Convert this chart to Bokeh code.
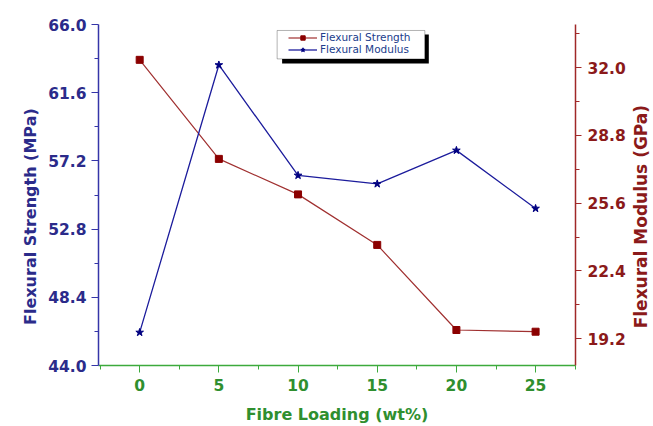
import math
from bokeh.plotting import figure
from bokeh.layouts import row
from bokeh.core.properties import value
from bokeh.models import (LinearAxis, Range1d, FixedTicker, PrintfTickFormatter,
                          Legend, LegendItem, BoxAnnotation)
from bokeh.embed import file_html
from bokeh.resources import INLINE

# ---- data ----
fibre = [0, 5, 10, 15, 20, 25]
strength = [63.72, 57.33, 55.04, 51.78, 46.29, 46.18]      # red, left axis (MPa)
modulus = [19.50, 32.12, 26.91, 26.51, 28.09, 25.35]        # blue, right axis (GPa)

x_major = [0, 5, 10, 15, 20, 25]
x_minor = [-2.5, 2.5, 7.5, 12.5, 17.5, 22.5, 27.5]
yl_major = [44.0, 48.4, 52.8, 57.2, 61.6, 66.0]
yl_minor = [46.2, 50.6, 55.0, 59.4, 63.8]
yr_major = [19.2, 22.4, 25.6, 28.8, 32.0]
yr_minor = [20.8, 24.0, 27.2, 30.4, 33.6]

left_title = "Flexural Strength (MPa)"
right_title = "Flexural Modulus (GPa)"
x_title = "Fibre Loading (wt%)"

X0, X1 = -2.6, 27.52
Y0, Y1 = 44.0, 66.0
R0, R1 = 17.94, 34.03

FONT = "DejaVu Sans"
BLUE_T = "#2B2B8A"
BLUE_A = "#3535A8"
RED_T = "#8B1A1A"
RED_A = "#A02828"
GREEN_T = "#2F8F2F"
GREEN_A = "#3CAA3C"

H = 426
LW, RW = 42, 25          # side strips holding the y titles
MW = 653 - LW - RW       # main plot width
TITLE_Y = H - 240        # vertical centre of the y titles


def strip(width):
    f = figure(width=width, height=H, output_backend="svg", toolbar_location=None,
               title=None, x_axis_type=None, y_axis_type=None,
               x_range=Range1d(0, width), y_range=Range1d(0, H),
               min_border=0, min_border_left=0, min_border_right=0,
               min_border_top=0, min_border_bottom=0)
    f.outline_line_color = None
    f.xgrid.visible = False
    f.ygrid.visible = False
    f.background_fill_color = "white"
    f.border_fill_color = "white"
    return f


pl = strip(LW)
pl.text(x=[30], y=[TITLE_Y], text=[left_title], angle=math.pi / 2,
        text_align="center", text_baseline="middle", text_font=value(FONT),
        text_font_style="bold", text_font_size=value("16px"), text_color=BLUE_T)

pr = strip(RW)
pr.text(x=[640 - (LW + MW)], y=[TITLE_Y], text=[right_title], angle=math.pi / 2,
        text_align="center", text_baseline="middle", text_font=value(FONT),
        text_font_style="bold", text_font_size=value("17px"), text_color=RED_T)

pm = figure(width=MW, height=H, output_backend="svg", toolbar_location=None,
            title=None, x_range=Range1d(X0, X1), y_range=Range1d(Y0, Y1),
            min_border_left=98 - LW, min_border_right=(LW + MW) - 576,
            min_border_top=24, min_border_bottom=60)
pm.outline_line_color = None
pm.xgrid.visible = False
pm.ygrid.visible = False
pm.background_fill_color = "white"
pm.border_fill_color = "white"
pm.extra_y_ranges = {"mod": Range1d(R0, R1)}

# x axis
xa = pm.xaxis[0]
xa.ticker = FixedTicker(ticks=x_major, minor_ticks=x_minor)
xa.axis_label = x_title
xa.axis_label_text_font = FONT
xa.axis_label_text_font_style = "bold"
xa.axis_label_text_font_size = "16px"
xa.axis_label_text_color = GREEN_T
xa.axis_label_standoff = 11
xa.major_label_text_font = FONT
xa.major_label_text_font_style = "bold"
xa.major_label_text_font_size = "15.5px"
xa.major_label_text_color = GREEN_T
xa.major_label_standoff = 6
xa.axis_line_color = GREEN_A
xa.major_tick_line_color = GREEN_A
xa.minor_tick_line_color = GREEN_A
xa.major_tick_out = 7
xa.major_tick_in = 0
xa.minor_tick_out = 4
xa.minor_tick_in = 0
xa.axis_line_width = 1.5

# left axis
ya = pm.yaxis[0]
ya.ticker = FixedTicker(ticks=yl_major, minor_ticks=yl_minor)
ya.formatter = PrintfTickFormatter(format="%.1f")
ya.major_label_text_font = FONT
ya.major_label_text_font_style = "bold"
ya.major_label_text_font_size = "15.5px"
ya.major_label_text_color = BLUE_T
ya.major_label_standoff = 5
ya.axis_line_color = BLUE_A
ya.major_tick_line_color = BLUE_A
ya.minor_tick_line_color = BLUE_A
ya.major_tick_out = 7
ya.major_tick_in = 0
ya.minor_tick_out = 4
ya.minor_tick_in = 0
ya.axis_line_width = 1.5

# right axis
ra = LinearAxis(y_range_name="mod")
ra.ticker = FixedTicker(ticks=yr_major, minor_ticks=yr_minor)
ra.formatter = PrintfTickFormatter(format="%.1f")
ra.major_label_text_font = FONT
ra.major_label_text_font_style = "bold"
ra.major_label_text_font_size = "15.5px"
ra.major_label_text_color = RED_T
ra.major_label_standoff = 6
ra.axis_line_color = RED_A
ra.major_tick_line_color = RED_A
ra.minor_tick_line_color = RED_A
ra.major_tick_out = 6
ra.major_tick_in = 0
ra.minor_tick_out = 4
ra.minor_tick_in = 0
ra.axis_line_width = 1.5
pm.add_layout(ra, "right")

# series
rl = pm.line(fibre, strength, line_color="#A03030", line_width=1.2)
rs = pm.scatter(fibre, strength, marker="square", size=7, fill_color="#8B0000",
                line_color="#8B0000")
bl = pm.line(fibre, modulus, line_color="#1C1C9C", line_width=1.3, y_range_name="mod")
bs = pm.scatter(fibre, modulus, marker="star", size=8, fill_color="#000080",
                line_color="#000080", y_range_name="mod")


# pixel -> data helpers (frame on page: x 98..576, y 24..366)
def dx(px):
    return X0 + (px - 98) * (X1 - X0) / 478.0


def dy(py):
    return Y0 + (366 - py) * (Y1 - Y0) / 342.0


# legend box with shadow
shadow = BoxAnnotation(left=dx(282), right=dx(429), top=dy(34), bottom=dy(63),
                       fill_color="black", fill_alpha=1.0, line_color=None)
box = BoxAnnotation(left=dx(277), right=dx(425), top=dy(30), bottom=dy(58.5),
                    fill_color="white", fill_alpha=1.0, line_color="black",
                    line_width=1)
pm.add_layout(shadow)
pm.add_layout(box)

legend = Legend(items=[LegendItem(label="Flexural Strength", renderers=[rl, rs]),
                       LegendItem(label="Flexural Modulus", renderers=[bl, bs])],
                location=(190, 310), border_line_color=None,
                background_fill_alpha=0.0, glyph_width=29, glyph_height=11,
                label_height=11, spacing=0, padding=0, margin=0,
                label_standoff=3, label_text_font=FONT,
                label_text_font_size="10.5px", label_text_color="#203C8C")
pm.add_layout(legend, "center")

p = row(pl, pm, pr, spacing=0)

open("out.html", "w").write(file_html(p, INLINE))
